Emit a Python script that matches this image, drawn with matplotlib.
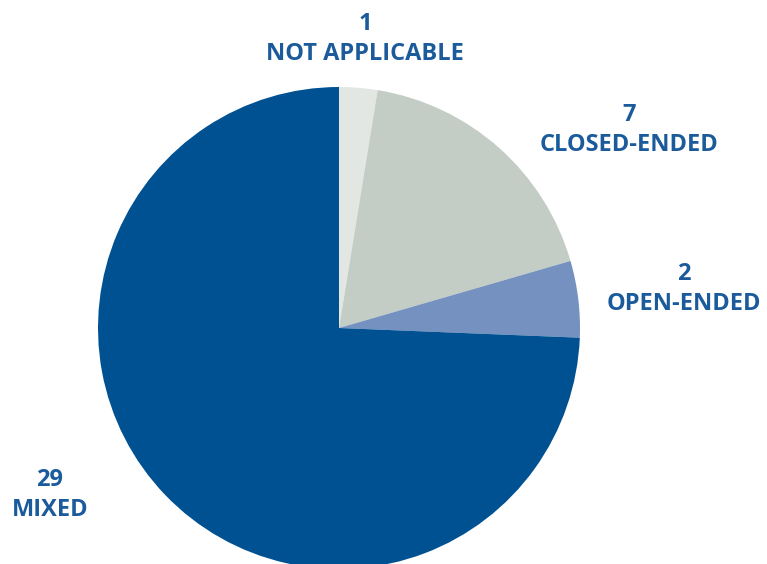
import matplotlib.pyplot as plt

categories = ['NOT APPLICABLE', 'CLOSED-ENDED', 'OPEN-ENDED', 'MIXED']
counts = [1, 7, 2, 29]
colors = ['#e2e7e4', '#c3cdc5', '#7491c0', '#005192']

# label anchor points in pixel space (x, y from top)
label_pos = [(365, 39), (629, 130), (684, 289), (50, 495)]

W, H = 767, 564
fig = plt.figure(figsize=(W / 100, H / 100), dpi=100)
ax = fig.add_axes([0, 0, 1, 1])

ax.pie(counts, colors=colors, startangle=90, counterclock=False,
       center=(339, H - 328), radius=241, frame=True,
       wedgeprops=dict(linewidth=0))
ax.set_xlim(0, W)
ax.set_ylim(0, H)
ax.set_aspect('equal')
ax.axis('off')

for cat, n, (x, y) in zip(categories, counts, label_pos):
    ax.text(x, H - y, f'{n}\n{cat}', ha='center', va='center',
            fontsize=17, fontweight='bold', family='Open Sans',
            color='#1b5b9b', linespacing=1.38)

fig.savefig('out.png', dpi=100)
